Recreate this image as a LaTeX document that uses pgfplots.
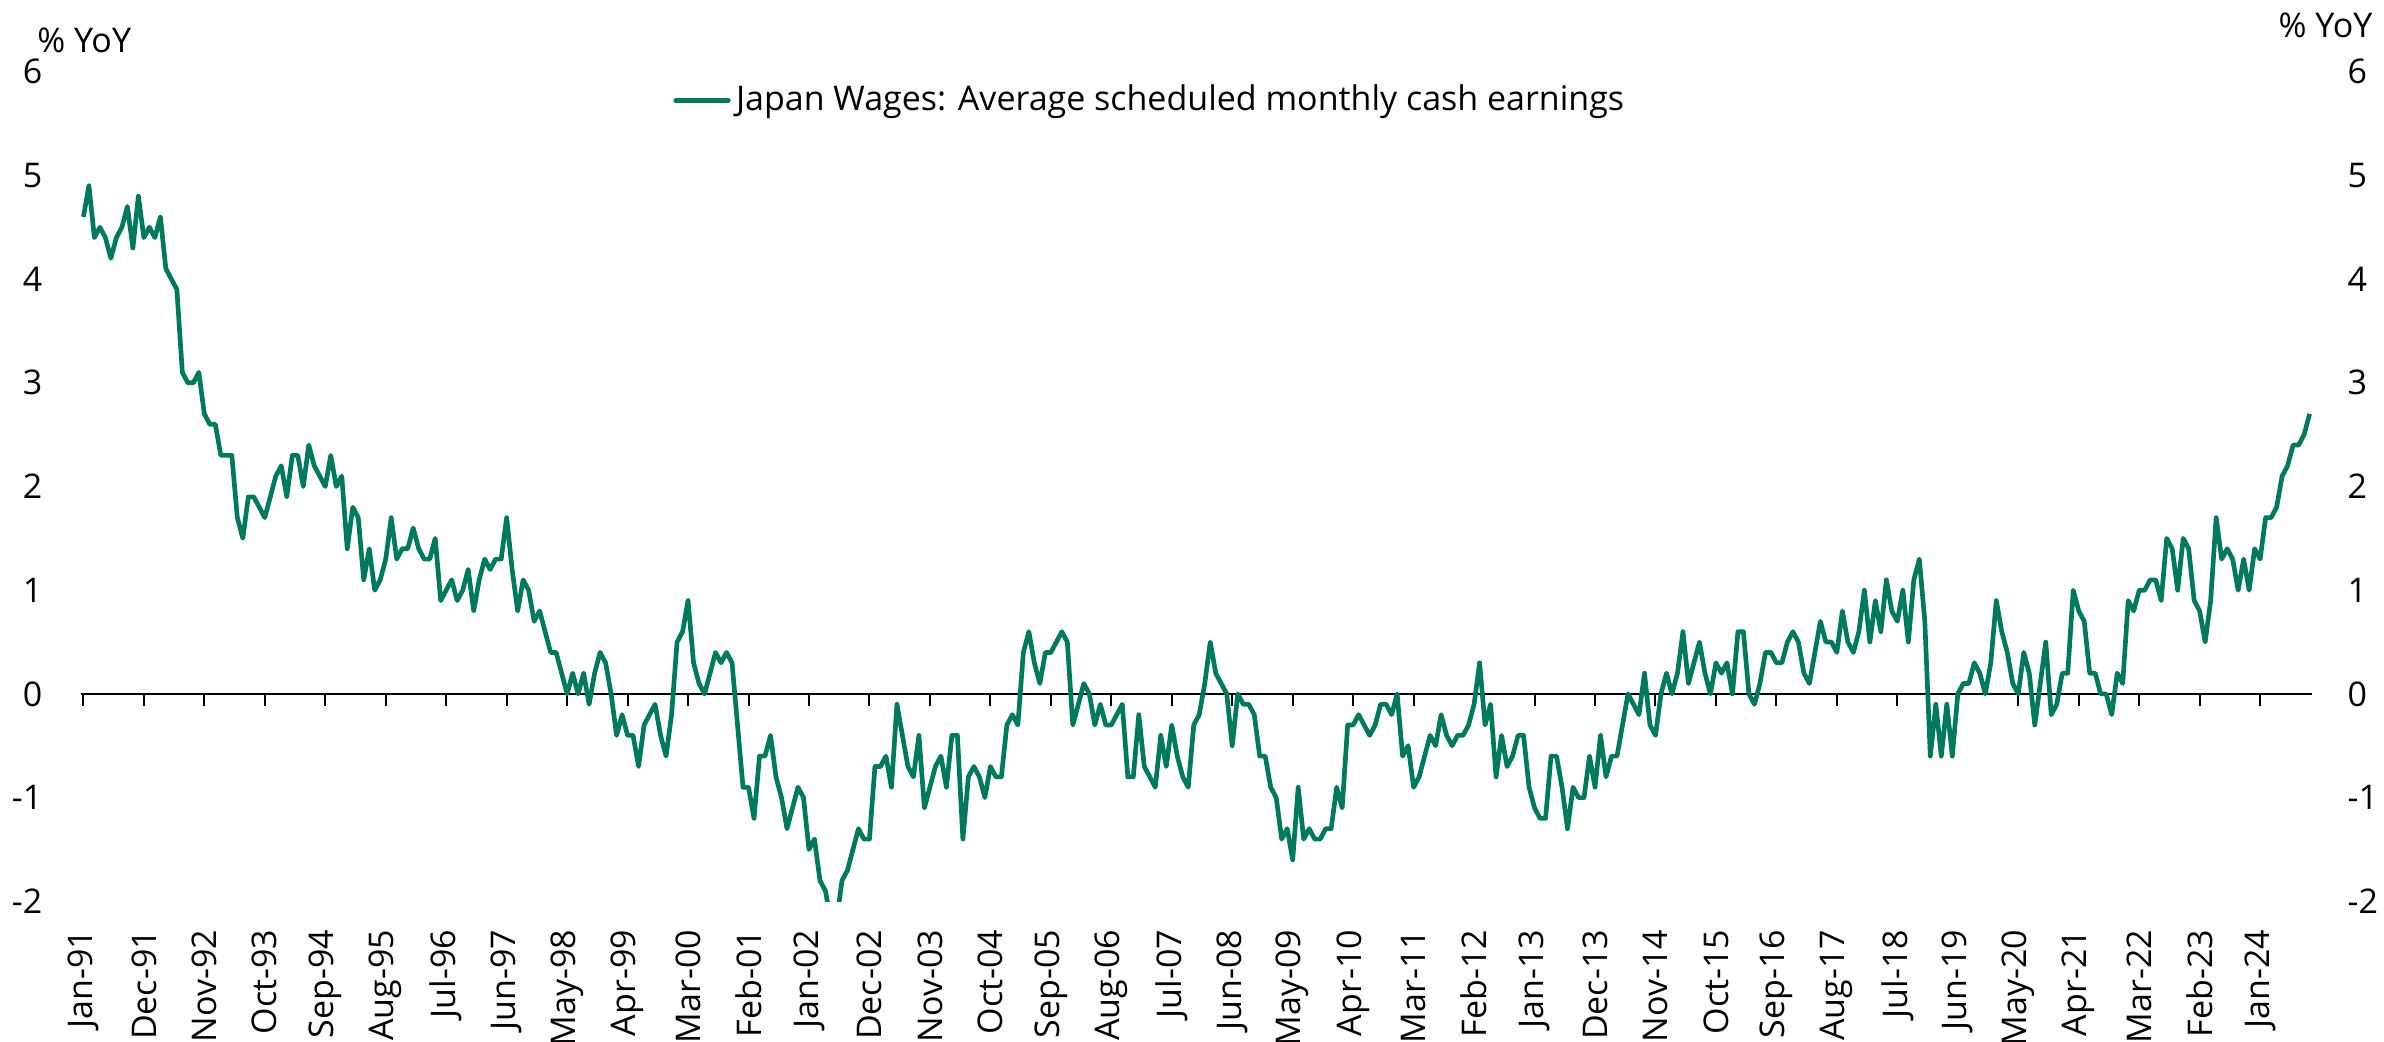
\documentclass[border=0pt]{standalone}
\usepackage{fontspec}
\setmainfont{Open Sans}
\usepackage{pgfplots}
\pgfplotsset{compat=1.18}
\definecolor{wage}{RGB}{0,122,94}
\newcommand{\lblfont}{\fontsize{10.2}{12}\selectfont}
\begin{document}
\begin{tikzpicture}[x=1pt,y=1pt]
\useasboundingbox (0,0) rectangle (715.2,312.6);
\begin{axis}[
  at={(24.2pt,42.2pt)}, anchor=south west,
  scale only axis, width=669.5pt, height=248.9pt,
  xmin=-0.5, xmax=405.5, ymin=-2, ymax=6,
  axis line style={draw=none},
  major tick length=0pt,
  xtick={0,11,...,396},
  xticklabels={Jan-91,Dec-91,Nov-92,Oct-93,Sep-94,Aug-95,Jul-96,Jun-97,May-98,Apr-99,Mar-00,Feb-01,Jan-02,Dec-02,Nov-03,Oct-04,Sep-05,Aug-06,Jul-07,Jun-08,May-09,Apr-10,Mar-11,Feb-12,Jan-13,Dec-13,Nov-14,Oct-15,Sep-16,Aug-17,Jul-18,Jun-19,May-20,Apr-21,Mar-22,Feb-23,Jan-24},
  xticklabel style={rotate=90, anchor=east, inner sep=0pt, font=\lblfont},
  xticklabel shift=8.4pt,
  ytick={-2,-1,...,6},
  yticklabel style={anchor=east, inner sep=0pt, font=\lblfont},
  yticklabel shift=11.3pt,
  /pgf/number format/assume math mode=true,
  legend style={at={(0.2653,0.9652)}, anchor=west, draw=none, fill=none, inner sep=0pt, font=\lblfont, nodes={inner sep=0pt}, /tikz/every odd column/.append style={column sep=1.6pt}},
  legend image code/.code={\draw[#1, line width=1.7pt, line cap=round] (0pt,0pt) -- (15.5pt,0pt);},
]
\draw[black, line width=0.6pt] (axis cs:-0.5,0) -- (axis cs:405.5,0);
\pgfplotsinvokeforeach{0,11,...,396}{\draw[black, line width=0.6pt] (axis cs:#1,0) -- ([yshift=-3.7pt]axis cs:#1,0);}
\addplot[color=wage, line width=1.4pt, line join=round, mark=none] coordinates {
(0,4.6)(1,4.9)(2,4.4)(3,4.5)(4,4.4)(5,4.2)(6,4.4)(7,4.5)(8,4.7)(9,4.3)(10,4.8)(11,4.4)
(12,4.5)(13,4.4)(14,4.6)(15,4.1)(16,4.0)(17,3.9)(18,3.1)(19,3.0)(20,3.0)(21,3.1)(22,2.7)(23,2.6)
(24,2.6)(25,2.3)(26,2.3)(27,2.3)(28,1.7)(29,1.5)(30,1.9)(31,1.9)(32,1.8)(33,1.7)(34,1.9)(35,2.1)
(36,2.2)(37,1.9)(38,2.3)(39,2.3)(40,2.0)(41,2.4)(42,2.2)(43,2.1)(44,2.0)(45,2.3)(46,2.0)(47,2.1)
(48,1.4)(49,1.8)(50,1.7)(51,1.1)(52,1.4)(53,1.0)(54,1.1)(55,1.3)(56,1.7)(57,1.3)(58,1.4)(59,1.4)
(60,1.6)(61,1.4)(62,1.3)(63,1.3)(64,1.5)(65,0.9)(66,1.0)(67,1.1)(68,0.9)(69,1.0)(70,1.2)(71,0.8)
(72,1.1)(73,1.3)(74,1.2)(75,1.3)(76,1.3)(77,1.7)(78,1.2)(79,0.8)(80,1.1)(81,1.0)(82,0.7)(83,0.8)
(84,0.6)(85,0.4)(86,0.4)(87,0.2)(88,0.0)(89,0.2)(90,0.0)(91,0.2)(92,-0.1)(93,0.2)(94,0.4)(95,0.3)
(96,0.0)(97,-0.4)(98,-0.2)(99,-0.4)(100,-0.4)(101,-0.7)(102,-0.3)(103,-0.2)(104,-0.1)(105,-0.4)(106,-0.6)(107,-0.2)
(108,0.5)(109,0.6)(110,0.9)(111,0.3)(112,0.1)(113,0.0)(114,0.2)(115,0.4)(116,0.3)(117,0.4)(118,0.3)(119,-0.3)
(120,-0.9)(121,-0.9)(122,-1.2)(123,-0.6)(124,-0.6)(125,-0.4)(126,-0.8)(127,-1.0)(128,-1.3)(129,-1.1)(130,-0.9)(131,-1.0)
(132,-1.5)(133,-1.4)(134,-1.8)(135,-1.9)(136,-2.2)(137,-2.2)(138,-1.8)(139,-1.7)(140,-1.5)(141,-1.3)(142,-1.4)(143,-1.4)
(144,-0.7)(145,-0.7)(146,-0.6)(147,-0.9)(148,-0.1)(149,-0.4)(150,-0.7)(151,-0.8)(152,-0.4)(153,-1.1)(154,-0.9)(155,-0.7)
(156,-0.6)(157,-0.9)(158,-0.4)(159,-0.4)(160,-1.4)(161,-0.8)(162,-0.7)(163,-0.8)(164,-1.0)(165,-0.7)(166,-0.8)(167,-0.8)
(168,-0.3)(169,-0.2)(170,-0.3)(171,0.4)(172,0.6)(173,0.3)(174,0.1)(175,0.4)(176,0.4)(177,0.5)(178,0.6)(179,0.5)
(180,-0.3)(181,-0.1)(182,0.1)(183,0.0)(184,-0.3)(185,-0.1)(186,-0.3)(187,-0.3)(188,-0.2)(189,-0.1)(190,-0.8)(191,-0.8)
(192,-0.2)(193,-0.7)(194,-0.8)(195,-0.9)(196,-0.4)(197,-0.7)(198,-0.3)(199,-0.6)(200,-0.8)(201,-0.9)(202,-0.3)(203,-0.2)
(204,0.1)(205,0.5)(206,0.2)(207,0.1)(208,0.0)(209,-0.5)(210,0.0)(211,-0.1)(212,-0.1)(213,-0.2)(214,-0.6)(215,-0.6)
(216,-0.9)(217,-1.0)(218,-1.4)(219,-1.3)(220,-1.6)(221,-0.9)(222,-1.4)(223,-1.3)(224,-1.4)(225,-1.4)(226,-1.3)(227,-1.3)
(228,-0.9)(229,-1.1)(230,-0.3)(231,-0.3)(232,-0.2)(233,-0.3)(234,-0.4)(235,-0.3)(236,-0.1)(237,-0.1)(238,-0.2)(239,0.0)
(240,-0.6)(241,-0.5)(242,-0.9)(243,-0.8)(244,-0.6)(245,-0.4)(246,-0.5)(247,-0.2)(248,-0.4)(249,-0.5)(250,-0.4)(251,-0.4)
(252,-0.3)(253,-0.1)(254,0.3)(255,-0.3)(256,-0.1)(257,-0.8)(258,-0.4)(259,-0.7)(260,-0.6)(261,-0.4)(262,-0.4)(263,-0.9)
(264,-1.1)(265,-1.2)(266,-1.2)(267,-0.6)(268,-0.6)(269,-0.9)(270,-1.3)(271,-0.9)(272,-1.0)(273,-1.0)(274,-0.6)(275,-0.9)
(276,-0.4)(277,-0.8)(278,-0.6)(279,-0.6)(280,-0.3)(281,0.0)(282,-0.1)(283,-0.2)(284,0.2)(285,-0.3)(286,-0.4)(287,0.0)
(288,0.2)(289,0.0)(290,0.2)(291,0.6)(292,0.1)(293,0.3)(294,0.5)(295,0.2)(296,0.0)(297,0.3)(298,0.2)(299,0.3)
(300,0.0)(301,0.6)(302,0.6)(303,0.0)(304,-0.1)(305,0.1)(306,0.4)(307,0.4)(308,0.3)(309,0.3)(310,0.5)(311,0.6)
(312,0.5)(313,0.2)(314,0.1)(315,0.4)(316,0.7)(317,0.5)(318,0.5)(319,0.4)(320,0.8)(321,0.5)(322,0.4)(323,0.6)
(324,1.0)(325,0.5)(326,0.9)(327,0.6)(328,1.1)(329,0.8)(330,0.7)(331,1.0)(332,0.5)(333,1.1)(334,1.3)(335,0.7)
(336,-0.6)(337,-0.1)(338,-0.6)(339,-0.1)(340,-0.6)(341,0.0)(342,0.1)(343,0.1)(344,0.3)(345,0.2)(346,0.0)(347,0.3)
(348,0.9)(349,0.6)(350,0.4)(351,0.1)(352,0.0)(353,0.4)(354,0.2)(355,-0.3)(356,0.1)(357,0.5)(358,-0.2)(359,-0.1)
(360,0.2)(361,0.2)(362,1.0)(363,0.8)(364,0.7)(365,0.2)(366,0.2)(367,0.0)(368,0.0)(369,-0.2)(370,0.2)(371,0.1)
(372,0.9)(373,0.8)(374,1.0)(375,1.0)(376,1.1)(377,1.1)(378,0.9)(379,1.5)(380,1.4)(381,1.0)(382,1.5)(383,1.4)
(384,0.9)(385,0.8)(386,0.5)(387,0.9)(388,1.7)(389,1.3)(390,1.4)(391,1.3)(392,1.0)(393,1.3)(394,1.0)(395,1.4)
(396,1.3)(397,1.7)(398,1.7)(399,1.8)(400,2.1)(401,2.2)(402,2.4)(403,2.4)(404,2.5)(405,2.7)
};
\addlegendentry{Japan Wages: Average scheduled monthly cash earnings}
\end{axis}
\begin{axis}[
  at={(24.2pt,42.2pt)}, anchor=south west,
  scale only axis, width=669.5pt, height=248.9pt,
  xmin=-0.5, xmax=405.5, ymin=-2, ymax=6,
  axis line style={draw=none},
  major tick length=0pt,
  xtick=\empty,
  ytick={-2,-1,...,6},
  yticklabel pos=right,
  yticklabel style={anchor=west, inner sep=0pt, font=\lblfont},
  yticklabel shift=10.4pt,
  /pgf/number format/assume math mode=true,
]
\end{axis}
\node[anchor=base west, inner sep=0pt, font=\lblfont] at (11pt,296.8pt) {\% YoY};
\node[anchor=base east, inner sep=0pt, font=\lblfont] at (711.9pt,301.4pt) {\% YoY};
\end{tikzpicture}
\end{document}
